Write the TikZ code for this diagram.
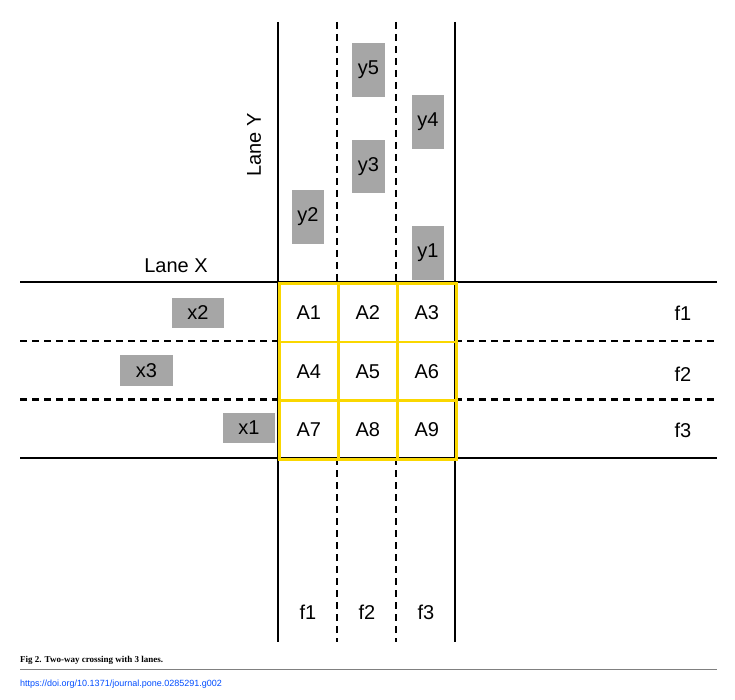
\documentclass[tikz,border=0pt]{standalone}
\usepackage{fontspec}
\setmainfont{Liberation Sans}
\newfontfamily\capfont{Liberation Serif}
\definecolor{gold}{RGB}{250,215,0}
\begin{document}
\begin{tikzpicture}[x=1pt,y=-1pt,
  road/.style={line width=2.4pt},
  lane/.style={line width=2.4pt,dash pattern=on 7pt off 5pt},
  cell/.style={draw=gold,line width=2.6pt},
  veh/.style={fill=gray!70,inner sep=0pt,font=\fontsize{20}{20}\selectfont},
  lbl/.style={font=\fontsize{20}{20}\selectfont,inner sep=0pt}]
\useasboundingbox (0,0) rectangle (735,700);
% roads
\draw[road] (20,282) -- (717,282);
\draw[road] (20,458) -- (717,458);
\draw[lane] (20,340.7) -- (278,340.7) (455,340.7) -- (717,340.7);
\draw[lane] (20,399.3) -- (278,399.3) (455,399.3) -- (717,399.3);
\draw[road] (278,22) -- (278,642);
\draw[road] (455,22) -- (455,642);
\draw[lane] (337,22) -- (337,282) (337,458) -- (337,642);
\draw[lane] (396,22) -- (396,282) (396,458) -- (396,642);
% cells
\foreach \r [count=\i from 0] in {1,2,3}{
 \foreach \c [count=\j from 0] in {1,2,3}{
  \pgfmathtruncatemacro{\n}{3*\i+\j+1}
  \node[cell,minimum width=59pt,minimum height=58.7pt,anchor=north west,lbl] (A\n) at (278+59*\j,282+58.7*\i) {A\n};
 }}
% vehicles
\node[veh,minimum width=33pt,minimum height=54pt] (y5) at (368.5,70) {y5};
\node[veh,minimum width=32pt,minimum height=54pt] (y4) at (428,122) {y4};
\node[veh,minimum width=33pt,minimum height=53pt] (y3) at (368.5,166.5) {y3};
\node[veh,minimum width=32pt,minimum height=54pt] (y2) at (308,217) {y2};
\node[veh,minimum width=32pt,minimum height=54pt] (y1) at (428,253) {y1};
\node[veh,minimum width=52pt,minimum height=30pt] (x2) at (198,313) {x2};
\node[veh,minimum width=53pt,minimum height=31pt] (x3) at (146.5,370.5) {x3};
\node[veh,minimum width=52pt,minimum height=30pt] (x1) at (249,428) {x1};
% labels
\node[lbl] (lx) at (176,266) {Lane X};
\node[lbl,rotate=90] (ly) at (254,145) {Lane Y};
\node[lbl] (rf1) at (683,313) {f1};
\node[lbl] (rf2) at (683,374) {f2};
\node[lbl] (rf3) at (683,430) {f3};
\node[lbl] (bf1) at (308,612) {f1};
\node[lbl] (bf2) at (367,612) {f2};
\node[lbl] (bf3) at (426,612) {f3};
% caption
\node[anchor=west,inner sep=0pt,font=\capfont\bfseries\fontsize{9}{9}\selectfont] (cap) at (20,660) {Fig 2. Two-way crossing with 3 lanes.};
\draw[gray,line width=1pt] (20,669) -- (717,669);
\node[anchor=west,inner sep=0pt,text=blue!70!cyan,font=\fontsize{9}{9}\selectfont] (doi) at (20,684) {https://doi.org/10.1371/journal.pone.0285291.g002};
\end{tikzpicture}
\end{document}
